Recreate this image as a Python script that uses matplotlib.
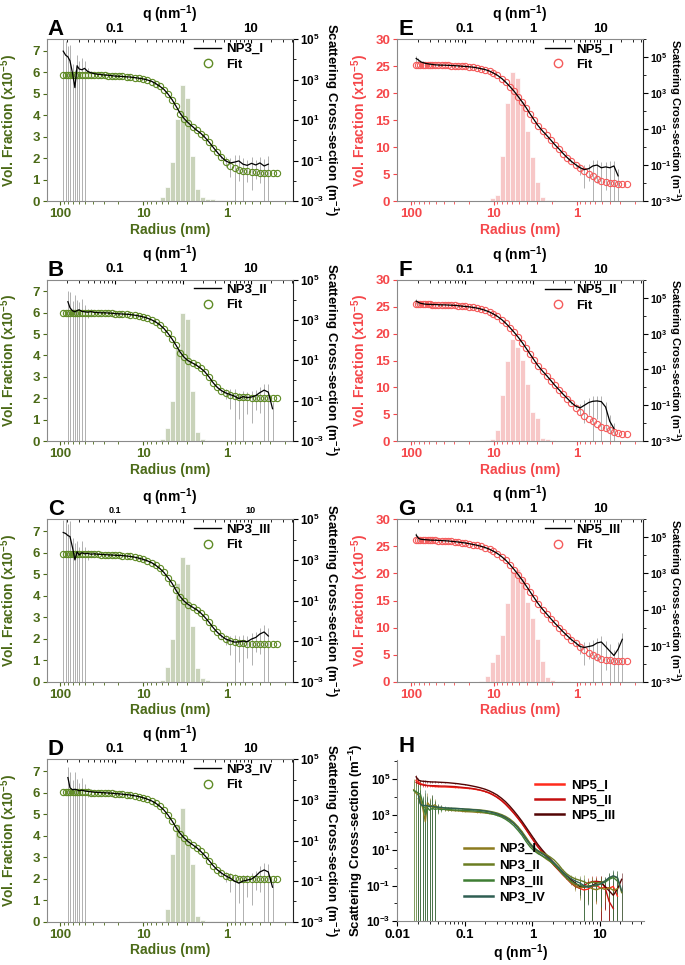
import numpy as np
import matplotlib
matplotlib.use("Agg")
import matplotlib.pyplot as plt
from matplotlib.lines import Line2D
from matplotlib.ticker import (FixedLocator, FuncFormatter, LogLocator,
                               NullFormatter, MultipleLocator)

plt.rcParams['font.family'] = ['Liberation Sans', 'DejaVu Sans']
plt.rcParams['font.weight'] = 'bold'
plt.rcParams['axes.labelweight'] = 'bold'
plt.rcParams['mathtext.fontset'] = 'custom'
plt.rcParams['mathtext.rm'] = 'Liberation Sans:bold'
plt.rcParams['mathtext.bf'] = 'Liberation Sans:bold'
plt.rcParams['mathtext.it'] = 'Liberation Sans:bold'
plt.rcParams['mathtext.default'] = 'rm'

nan = float('nan')

# q grid of the SAXS curves (nm^-1)
Q = [0.0175, 0.019, 0.0205, 0.022, 0.024, 0.026, 0.028, 0.030, 0.033, 0.036,
     0.040, 0.045, 0.050, 0.056, 0.063, 0.071, 0.080, 0.090, 0.10, 0.115,
     0.13, 0.15, 0.17, 0.20, 0.23, 0.26, 0.30, 0.35, 0.40, 0.46,
     0.53, 0.61, 0.70, 0.80, 0.92, 1.05, 1.2, 1.4, 1.6, 1.85,
     2.1, 2.45, 2.8, 3.2, 3.7, 4.3, 5.0, 5.8, 6.7, 7.7,
     8.9, 10.3, 11.9, 13.7, 15.8, 18.2, 21.0, 24.5]

# log10 of the scattering cross-section (m^-1): measured data and fit
NP3_I_DATA = [4.40, 4.20, 4.12, 3.92, 3.30, 2.60, 3.68, 3.52, 3.48, 3.55,
              3.40, 3.33, 3.29, 3.26, 3.24, 3.22, 3.21, 3.19, 3.17, 3.16,
              3.15, 3.13, 3.12, 3.09, 3.06, 3.03, 2.98, 2.91, 2.80, 2.67,
              2.51, 2.28, 2.00, 1.68, 1.33, 1.07, 0.87, 0.67, 0.50, 0.34,
              0.16, -0.09, -0.34, -0.58, -0.82, -1.02, -1.12, -1.08, -1.02, -1.18,
              -1.24, -1.14, -1.22, -1.12, -1.27, -1.18, nan, nan]
NP3_I_FIT = [3.22, 3.22, 3.22, 3.22, 3.22, 3.22, 3.22, 3.22, 3.22, 3.22,
             3.22, 3.21, 3.21, 3.21, 3.20, 3.20, 3.19, 3.18, 3.17, 3.16,
             3.15, 3.14, 3.12, 3.09, 3.06, 3.03, 2.98, 2.90, 2.80, 2.67,
             2.50, 2.27, 2.00, 1.68, 1.32, 1.06, 0.86, 0.66, 0.50, 0.33,
             0.16, -0.10, -0.36, -0.60, -0.85, -1.07, -1.25, -1.37, -1.45, -1.50,
             -1.54, -1.57, -1.59, -1.60, -1.60, -1.60, -1.60, -1.60]

NP3_II_DATA = [nan, nan, 3.90, 3.60, 3.45, 3.40, 3.46, 3.50, 3.42, 3.40,
               3.38, 3.41, 3.37, 3.36, 3.35, 3.35, 3.34, 3.33, 3.31, 3.30,
               3.29, 3.28, 3.26, 3.23, 3.19, 3.15, 3.09, 3.00, 2.90, 2.76,
               2.57, 2.33, 2.05, 1.74, 1.40, 1.15, 0.98, 0.86, 0.75, 0.60,
               0.44, 0.17, -0.11, -0.33, -0.50, -0.62, -0.70, -0.78, -0.90, -0.80,
               -0.85, -0.82, -0.75, -0.60, -0.48, -0.58, -1.40, nan]
NP3_II_FIT = [3.35, 3.35, 3.35, 3.35, 3.35, 3.35, 3.35, 3.35, 3.35, 3.35,
              3.35, 3.35, 3.35, 3.34, 3.34, 3.33, 3.33, 3.32, 3.31, 3.30,
              3.29, 3.28, 3.26, 3.23, 3.19, 3.15, 3.09, 3.00, 2.90, 2.76,
              2.57, 2.33, 2.05, 1.74, 1.38, 1.14, 0.97, 0.86, 0.75, 0.60,
              0.44, 0.16, -0.12, -0.34, -0.52, -0.63, -0.71, -0.76, -0.80, -0.82,
              -0.84, -0.86, -0.87, -0.88, -0.88, -0.88, -0.88, -0.88]

NP3_III_DATA = [4.35, 4.30, 4.20, 4.15, 3.60, 3.00, 3.40, 3.25, 3.35, 3.30,
                3.32, 3.28, 3.30, 3.28, 3.27, 3.26, 3.25, 3.24, 3.23, 3.22,
                3.21, 3.19, 3.17, 3.13, 3.08, 3.03, 2.96, 2.86, 2.74, 2.58,
                2.38, 2.12, 1.84, 1.50, 1.19, 0.97, 0.81, 0.67, 0.55, 0.38,
                0.19, -0.07, -0.33, -0.55, -0.74, -0.90, -0.98, -1.05, -1.04, -1.00,
                -1.03, -0.90, -0.82, -0.65, -0.55, -0.75, nan, nan]
NP3_III_FIT = [3.28, 3.28, 3.28, 3.28, 3.28, 3.28, 3.28, 3.28, 3.28, 3.28,
               3.28, 3.28, 3.27, 3.27, 3.26, 3.26, 3.25, 3.24, 3.23, 3.22,
               3.21, 3.19, 3.17, 3.13, 3.08, 3.03, 2.96, 2.86, 2.74, 2.58,
               2.38, 2.12, 1.84, 1.50, 1.18, 0.96, 0.80, 0.67, 0.55, 0.38,
               0.19, -0.08, -0.34, -0.56, -0.76, -0.90, -1.00, -1.06, -1.09, -1.11,
               -1.13, -1.14, -1.15, -1.16, -1.16, -1.16, -1.16, -1.16]

NP3_IV_DATA = [nan, nan, 4.10, 3.60, 3.50, 3.52, 3.50, 3.45, 3.48, 3.44,
               3.42, 3.40, 3.38, 3.37, 3.36, 3.35, 3.34, 3.33, 3.31, 3.30,
               3.28, 3.26, 3.24, 3.20, 3.16, 3.11, 3.04, 2.95, 2.84, 2.69,
               2.50, 2.25, 1.96, 1.64, 1.35, 1.13, 0.95, 0.79, 0.65, 0.46,
               0.27, 0.01, -0.23, -0.43, -0.60, -0.74, -0.85, -1.00, -1.10, -1.00,
               -0.95, -0.90, -0.75, -0.55, -0.45, -0.55, -1.30, nan]
NP3_IV_FIT = [3.37, 3.37, 3.37, 3.37, 3.37, 3.37, 3.37, 3.37, 3.37, 3.37,
              3.37, 3.36, 3.36, 3.35, 3.35, 3.34, 3.33, 3.32, 3.31, 3.30,
              3.28, 3.26, 3.24, 3.20, 3.16, 3.11, 3.04, 2.95, 2.84, 2.69,
              2.50, 2.25, 1.96, 1.64, 1.34, 1.12, 0.95, 0.79, 0.65, 0.46,
              0.27, 0.00, -0.24, -0.44, -0.62, -0.74, -0.82, -0.86, -0.88, -0.90,
              -0.91, -0.91, -0.92, -0.92, -0.92, -0.92, -0.92, -0.92]

NP5_I_DATA = [nan, 4.93, 4.85, 4.75, 4.70, 4.66, 4.64, 4.62, 4.60, 4.58,
              4.57, 4.56, 4.56, 4.55, 4.54, 4.53, 4.52, 4.50, 4.49, 4.47,
              4.45, 4.41, 4.37, 4.31, 4.23, 4.13, 4.00, 3.81, 3.61, 3.37,
              3.11, 2.81, 2.51, 2.19, 1.83, 1.51, 1.19, 0.89, 0.66, 0.39,
              0.15, -0.11, -0.35, -0.57, -0.79, -0.98, -1.15, -1.25, -1.20, -1.05,
              -1.00, -1.15, -1.10, -1.15, -1.05, -1.60, nan, nan]
NP5_I_FIT = [nan, 4.59, 4.59, 4.59, 4.59, 4.58, 4.58, 4.58, 4.58, 4.57,
             4.57, 4.56, 4.56, 4.55, 4.54, 4.53, 4.51, 4.50, 4.49, 4.47,
             4.45, 4.41, 4.37, 4.31, 4.23, 4.13, 4.00, 3.80, 3.60, 3.36,
             3.10, 2.80, 2.50, 2.18, 1.82, 1.50, 1.18, 0.88, 0.65, 0.38,
             0.14, -0.12, -0.36, -0.58, -0.80, -1.00, -1.18, -1.33, -1.47, -1.62,
             -1.75, -1.86, -1.93, -1.98, -2.01, -2.03, -2.05, -2.06]

NP5_II_DATA = [nan, 4.82, 4.75, 4.70, 4.67, 4.65, 4.64, 4.64, 4.63, 4.63,
               4.62, 4.61, 4.61, 4.60, 4.59, 4.58, 4.56, 4.54, 4.52, 4.50,
               4.47, 4.43, 4.38, 4.30, 4.21, 4.11, 3.97, 3.78, 3.58, 3.34,
               3.08, 2.80, 2.50, 2.18, 1.84, 1.52, 1.20, 0.90, 0.66, 0.38,
               0.13, -0.14, -0.38, -0.60, -0.85, -1.05, -1.15, -1.00, -0.85, -0.78,
               -0.76, -0.80, -1.10, -1.90, -2.30, nan, nan, nan]
NP5_II_FIT = [nan, 4.65, 4.65, 4.65, 4.65, 4.64, 4.64, 4.64, 4.63, 4.63,
              4.62, 4.61, 4.61, 4.60, 4.59, 4.58, 4.56, 4.54, 4.52, 4.50,
              4.47, 4.43, 4.38, 4.30, 4.21, 4.11, 3.97, 3.78, 3.58, 3.34,
              3.08, 2.80, 2.50, 2.18, 1.84, 1.52, 1.20, 0.90, 0.66, 0.38,
              0.13, -0.15, -0.40, -0.64, -0.90, -1.14, -1.38, -1.58, -1.75, -1.90,
              -2.05, -2.20, -2.30, -2.41, -2.50, -2.56, -2.60, -2.62]

NP5_III_DATA = [nan, 5.13, 4.95, 4.90, 4.88, 4.87, 4.86, 4.85, 4.84, 4.84,
                4.83, 4.82, 4.81, 4.80, 4.78, 4.76, 4.74, 4.71, 4.69, 4.65,
                4.61, 4.56, 4.51, 4.43, 4.34, 4.24, 4.11, 3.92, 3.73, 3.49,
                3.22, 2.93, 2.63, 2.31, 1.97, 1.65, 1.33, 1.01, 0.76, 0.49,
                0.26, 0.00, -0.23, -0.44, -0.66, -0.85, -1.05, -1.10, -1.05, -1.00,
                -0.85, -0.80, -1.05, -1.30, -1.55, -1.20, -0.65, nan]
NP5_III_FIT = [nan, 4.86, 4.86, 4.85, 4.85, 4.85, 4.84, 4.84, 4.83, 4.83,
               4.82, 4.81, 4.80, 4.79, 4.77, 4.75, 4.73, 4.70, 4.68, 4.64,
               4.60, 4.55, 4.50, 4.42, 4.33, 4.23, 4.10, 3.91, 3.72, 3.48,
               3.21, 2.92, 2.62, 2.30, 1.96, 1.64, 1.32, 1.00, 0.75, 0.48,
               0.25, -0.01, -0.24, -0.45, -0.68, -0.88, -1.07, -1.24, -1.39, -1.52,
               -1.63, -1.72, -1.78, -1.82, -1.85, -1.86, -1.87, -1.87]

# relative uncertainty of the measured points
ERR_NP3 = [3.0, 4.0, 2.5, 5.0, 2.0, 6.0, 2.5, 1.5, 3.0, 1.2,
           0.5, 0.3, 0.2, 0.15, 0.1, 0.08, 0.06, 0.05, 0.03, 0.03,
           0.03, 0.03, 0.03, 0.03, 0.03, 0.03, 0.03, 0.03, 0.03, 0.03,
           0.03, 0.03, 0.03, 0.03, 0.03, 0.03, 0.03, 0.03, 0.03, 0.03,
           0.03, 0.03, 0.05, 0.1, 0.25, 0.5, 0.8, 1.3, 0.9, 1.0,
           0.85, 0.95, 0.8, 0.9, 1.1, 1.4, 1.2, 1.5]
ERR_NP5 = [0.3, 0.35, 0.25, 0.2, 0.18, 0.15, 0.12, 0.1, 0.08, 0.07,
           0.06, 0.05, 0.04, 0.02, 0.02, 0.02, 0.02, 0.02, 0.02, 0.02,
           0.02, 0.02, 0.02, 0.02, 0.02, 0.02, 0.02, 0.02, 0.02, 0.02,
           0.02, 0.02, 0.02, 0.02, 0.02, 0.02, 0.02, 0.02, 0.02, 0.02,
           0.02, 0.02, 0.02, 0.05, 0.15, 0.3, 0.6, 0.9, 0.8, 1.1,
           0.9, 1.2, 0.95, 1.3, 1.0, 1.5, 1.2, 1.4]

# size distributions: bin centres (nm) and volume fraction (x1e-5)
R_BINS = [14.0, 12.0, 10.4, 9.07, 7.89, 6.86, 5.97, 5.19, 4.51, 3.92, 3.41,
          2.97, 2.58, 2.24, 1.95, 1.70, 1.48, 1.28, 1.12, 0.97, 0.84]
HIST_NP3_I = [0.02, 0.02, 0.02, 0.03, 0.03, 0.05, 0.17, 0.67, 1.8, 3.8, 5.4,
              4.8, 2.1, 0.58, 0.2, 0.08, 0.07, 0.06, 0.05, 0.04, 0.03]
HIST_NP3_II = [0.02, 0.02, 0.02, 0.03, 0.03, 0.03, 0.08, 0.63, 1.85, 4.35, 6.0,
               5.7, 2.35, 0.42, 0.1, 0.05, 0.04, 0.04, 0.03, 0.03, 0.02]
HIST_NP3_III = [0.02, 0.03, 0.03, 0.03, 0.03, 0.05, 0.1, 0.7, 1.98, 4.57, 5.8,
                5.45, 2.6, 0.65, 0.15, 0.06, 0.05, 0.04, 0.04, 0.03, 0.02]
HIST_NP3_IV = [0.05, 0.05, 0.02, 0.02, 0.02, 0.02, 0.05, 0.6, 3.15, 4.55, 5.3,
               3.9, 2.7, 0.25, 0.08, 0.05, 0.04, 0.03, 0.03, 0.02, 0.02]
HIST_NP5_I = [0.0, 0.0, 0.5, 1.1, 8.3, 18.2, 24.0, 22.9, 18.5, 13.0, 8.2,
              3.5, 0.8, 0.2, 0.1, 0.05, 0.05, 0.04, 0.03, 0.03, 0.02]
HIST_NP5_II = [0.0, 0.1, 0.3, 2.05, 8.5, 14.9, 19.0, 17.6, 15.1, 10.6, 5.4,
               4.2, 0.6, 0.3, 0.1, 0.05, 0.04, 0.04, 0.03, 0.02, 0.02]
HIST_NP5_III = [0.2, 1.1, 3.7, 5.2, 8.7, 14.6, 20.4, 20.9, 19.2, 14.8, 11.7,
                7.9, 3.9, 0.8, 0.3, 0.1, 0.05, 0.04, 0.03, 0.02, 0.02]

for arr in [NP3_I_DATA, NP3_I_FIT, NP3_II_DATA, NP3_II_FIT, NP3_III_DATA,
            NP3_III_FIT, NP3_IV_DATA, NP3_IV_FIT, NP5_I_DATA, NP5_I_FIT,
            NP5_II_DATA, NP5_II_FIT, NP5_III_DATA, NP5_III_FIT, ERR_NP3, ERR_NP5]:
    assert len(arr) == len(Q)

FAMILY = {
    'NP3': dict(dark='#4b6a17', fit='#5f8b25', bar='#c9d3ba', vmax=7.55, vstep=1,
                imax=1e5, rlab=38, rsize=9.5, rtick=8.5),
    'NP5': dict(dark='#f5474a', fit='#f45b5b', bar='#f7c7c7', vmax=30, vstep=5,
                imax=1e6, rlab=32.5, rsize=8, rtick=7.5),
}
H_COLORS = {'NP5_I': '#ff2b1c', 'NP5_II': '#c40f0f', 'NP5_III': '#520404',
            'NP3_I': '#8c7b1e', 'NP3_II': '#6b7d22', 'NP3_III': '#3e7d33',
            'NP3_IV': '#2f5e52'}

W, H = 685, 965
fig = plt.figure(figsize=(W / 100, H / 100), dpi=100)


def px_rect(l, t, r, b):
    return [l / W, 1 - b / H, (r - l) / W, (b - t) / H]


def pow_label(v, pos):
    return r'$10^{%d}$' % int(round(np.log10(v)))


def error_lines(ax, logi, rel, **kw):
    q = np.array(Q)
    i = 10 ** np.array(logi)
    rel = np.array(rel)
    ok = np.isfinite(i)
    lo = i * (1 - rel)
    lo[~(lo > 0)] = 1e-6
    ax.vlines(q[ok], lo[ok], (i * (1 + rel))[ok], **kw)


def sas_panel(rect, letter, name, data, fit, err, hist, fam, small_q=False):
    c = FAMILY[fam]
    pos = px_rect(*rect)
    width = rect[2] - rect[0]

    # size distribution (radius, vol. fraction)
    ax = fig.add_axes(pos)
    r = np.array(R_BINS)
    ax.bar(r / 1.072, hist, width=r * 1.072 - r / 1.072, align='edge',
           color=c['bar'], edgecolor='white', linewidth=0.5)
    ax.set_xscale('log')
    ax.set_xlim(145, 0.16)
    ax.set_ylim(0, c['vmax'])
    ax.xaxis.set_major_locator(FixedLocator([100, 10, 1]))
    ax.xaxis.set_major_formatter(FuncFormatter(lambda v, p: '%g' % v))
    ax.xaxis.set_minor_locator(LogLocator(base=10, subs=np.arange(2, 10), numticks=20))
    ax.xaxis.set_minor_formatter(NullFormatter())
    ax.yaxis.set_major_locator(MultipleLocator(c['vstep']))
    ax.tick_params(which='both', colors=c['dark'], labelsize=9.5, direction='out', pad=2)
    ax.tick_params(which='major', length=3)
    ax.tick_params(which='minor', length=1.8)
    for s in ('top', 'right'):
        ax.spines[s].set_visible(False)
    for s in ('left', 'bottom'):
        ax.spines[s].set_color('#8a8a8a')
    ax.set_xlabel('Radius (nm)', color=c['dark'], fontsize=10, labelpad=2)
    ax.set_ylabel('Vol. Fraction (x10$^{-5}$)', color=c['dark'], fontsize=10,
                  va='center')
    ax.yaxis.set_label_coords(-37.5 / width, 0.5)

    # scattering curve (q, cross-section)
    ax2 = fig.add_axes(pos, facecolor='none')
    ax2.set_xscale('log')
    ax2.set_yscale('log')
    ax2.set_xlim(0.01, 42)
    ax2.set_ylim(1e-3, c['imax'])
    ax2.xaxis.tick_top()
    ax2.xaxis.set_label_position('top')
    ax2.yaxis.tick_right()
    ax2.yaxis.set_label_position('right')
    for s in ('left', 'bottom'):
        ax2.spines[s].set_visible(False)
    ax2.spines['top'].set_color('#8a8a8a')
    ax2.spines['right'].set_color('#222222')

    error_lines(ax2, data, err, colors='#a3a3a3', linewidth=0.6, zorder=1)
    ax2.plot(Q, 10 ** np.array(fit), ls='none', marker='o', mfc='none',
             mec=c['fit'], ms=4.5, mew=0.8, zorder=2)
    ax2.plot(Q, 10 ** np.array(data), color='black', lw=0.9, zorder=3)

    ax2.xaxis.set_major_locator(FixedLocator([0.1, 1, 10]))
    ax2.xaxis.set_major_formatter(FuncFormatter(lambda v, p: '%g' % v))
    ax2.xaxis.set_minor_locator(LogLocator(base=10, subs=np.arange(2, 10), numticks=20))
    ax2.xaxis.set_minor_formatter(NullFormatter())
    ax2.yaxis.set_major_locator(FixedLocator([1e-3, 1e-1, 1e1, 1e3, 1e5]))
    ax2.yaxis.set_major_formatter(FuncFormatter(pow_label))
    ax2.yaxis.set_minor_locator(LogLocator(base=10, subs=(1.0,), numticks=20))
    ax2.yaxis.set_minor_formatter(NullFormatter())
    ax2.tick_params(axis='x', which='both', direction='in', pad=3,
                    labelsize=6.5 if small_q else 9.5)
    ax2.tick_params(axis='x', which='major', length=3)
    ax2.tick_params(axis='x', which='minor', length=1.8)
    ax2.tick_params(axis='y', which='both', direction='out', labelsize=c['rtick'], pad=1.5)
    ax2.tick_params(axis='y', which='major', length=3.5)
    ax2.tick_params(axis='y', which='minor', length=2)
    ax2.set_xlabel('q (nm$^{-1}$)', fontsize=10, labelpad=3)
    ax2.set_ylabel('Scattering Cross-section (m$^{-1}$)', fontsize=c['rsize'],
                   rotation=270, va='center')
    ax2.yaxis.set_label_coords(1 + c['rlab'] / width, 0.5)

    handles = [Line2D([], [], color='black', lw=1.0),
               Line2D([], [], ls='none', marker='o', mfc='none', mec=c['fit'],
                      ms=6, mew=1.0)]
    ax2.legend(handles, [name, 'Fit'], loc='upper left', bbox_to_anchor=(0.6, 0.975),
               frameon=False, fontsize=9.5, handlelength=2.0, handletextpad=0.4,
               labelspacing=0.25, borderpad=0, borderaxespad=0)

    fig.text((rect[0] + 1) / W, 1 - 19 / H - (rect[1] - 39) / H, letter,
             fontsize=16, fontweight='bold', ha='left', va='top')


sas_panel((46.7, 39, 293, 201), 'A', 'NP3_I', NP3_I_DATA, NP3_I_FIT, ERR_NP3, HIST_NP3_I, 'NP3')
sas_panel((46.7, 279.5, 293, 441), 'B', 'NP3_II', NP3_II_DATA, NP3_II_FIT, ERR_NP3, HIST_NP3_II, 'NP3')
sas_panel((46.7, 519.3, 293, 681.7), 'C', 'NP3_III', NP3_III_DATA, NP3_III_FIT, ERR_NP3, HIST_NP3_III, 'NP3',
          small_q=True)
sas_panel((46.7, 759.3, 293, 921.7), 'D', 'NP3_IV', NP3_IV_DATA, NP3_IV_FIT, ERR_NP3, HIST_NP3_IV, 'NP3')
sas_panel((397.3, 39.3, 642.7, 201), 'E', 'NP5_I', NP5_I_DATA, NP5_I_FIT, ERR_NP5, HIST_NP5_I, 'NP5')
sas_panel((397.3, 280, 642.7, 441), 'F', 'NP5_II', NP5_II_DATA, NP5_II_FIT, ERR_NP5, HIST_NP5_II, 'NP5')
sas_panel((397.3, 519.3, 642.7, 681.7), 'G', 'NP5_III', NP5_III_DATA, NP5_III_FIT, ERR_NP5, HIST_NP5_III, 'NP5')

# panel H: all scattering curves together
axh = fig.add_axes(px_rect(397.3, 760, 644, 921))
np5 = [('NP5_I', NP5_I_DATA), ('NP5_II', NP5_II_DATA), ('NP5_III', NP5_III_DATA)]
np3 = [('NP3_I', NP3_I_DATA), ('NP3_II', NP3_II_DATA), ('NP3_III', NP3_III_DATA),
       ('NP3_IV', NP3_IV_DATA)]
for name, d in np5:
    error_lines(axh, d, ERR_NP5, colors=H_COLORS[name], linewidth=0.6, alpha=0.6)
for name, d in np3:
    error_lines(axh, d, ERR_NP3, colors=H_COLORS[name], linewidth=0.6, alpha=0.6)
for n, d in np5:
    axh.plot(Q, 10 ** np.array(d), color=H_COLORS[n], lw=1.0)
for n, d in np3:
    axh.plot(Q, 10 ** np.array(d), color=H_COLORS[n], lw=1.0)
axh.set_xscale('log')
axh.set_yscale('log')
axh.set_xlim(0.01, 45)
axh.set_ylim(1e-3, 1.2e6)
axh.xaxis.set_major_locator(FixedLocator([0.01, 0.1, 1, 10]))
axh.xaxis.set_major_formatter(FuncFormatter(lambda v, p: '%g' % v))
axh.xaxis.set_minor_locator(LogLocator(base=10, subs=np.arange(2, 10), numticks=20))
axh.xaxis.set_minor_formatter(NullFormatter())
axh.yaxis.set_major_locator(FixedLocator([1e-3, 1e-1, 1e1, 1e3, 1e5]))
axh.yaxis.set_major_formatter(FuncFormatter(pow_label))
axh.yaxis.set_minor_locator(LogLocator(base=10, subs=(1.0,), numticks=20))
axh.yaxis.set_minor_formatter(NullFormatter())
axh.tick_params(which='both', direction='out', labelsize=9.5, pad=2)
axh.tick_params(axis='y', labelsize=8.5, pad=1.5)
axh.tick_params(which='major', length=3.5)
axh.tick_params(which='minor', length=2)
for s in ('top', 'right'):
    axh.spines[s].set_visible(False)
for s in ('left', 'bottom'):
    axh.spines[s].set_color('#8a8a8a')
axh.set_xlabel('q (nm$^{-1}$)', fontsize=10, labelpad=1.5)
axh.set_ylabel('Scattering Cross-section (m$^{-1}$)', fontsize=9.5, va='center')
axh.yaxis.set_label_coords(-41 / 246.7, 0.5)
leg5 = axh.legend([Line2D([], [], color=H_COLORS[n], lw=1.8) for n, _ in np5],
                  [n for n, _ in np5], loc='upper left', bbox_to_anchor=(0.56, 0.88),
                  frameon=False, fontsize=9.5, handlelength=2.2, handletextpad=0.5,
                  labelspacing=0.2, borderpad=0, borderaxespad=0)
axh.add_artist(leg5)
axh.legend([Line2D([], [], color=H_COLORS[n], lw=1.8) for n, _ in np3],
           [n for n, _ in np3], loc='upper left', bbox_to_anchor=(0.27, 0.485),
           frameon=False, fontsize=9.5, handlelength=2.2, handletextpad=0.5,
           labelspacing=0.3, borderpad=0, borderaxespad=0)
fig.text(398.5 / W, 1 - 736 / H, 'H', fontsize=16, fontweight='bold', ha='left', va='top')

fig.savefig('out.png', dpi=100)
